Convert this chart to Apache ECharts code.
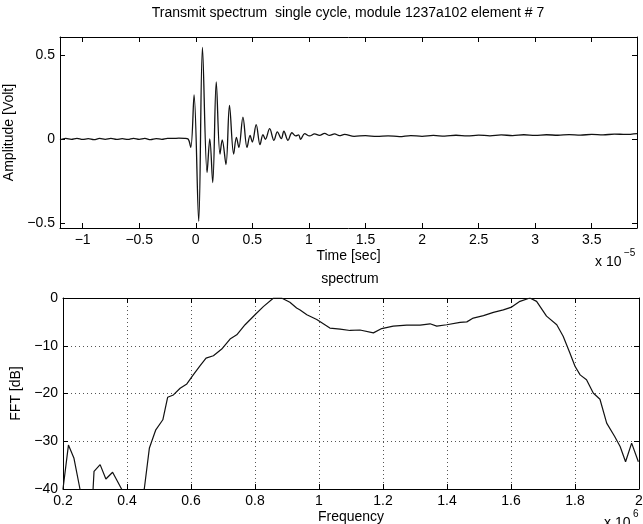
<!DOCTYPE html>
<html><head><meta charset="utf-8">
<script src="https://cdn.jsdelivr.net/npm/echarts@6/dist/echarts.min.js"></script>
<style>html,body{margin:0;padding:0;background:#fff}#c{width:643px;height:524px}</style>
</head><body><div id="c"></div>
<script>
// ---- Top plot: time signal (time in units of 1e-5 s, amplitude in Volt)
const timeValues = [
  -1.2, -1.15, -1.1, -1.05, -1.0, -0.95, -0.9, -0.85, -0.8, -0.75, -0.7, -0.65,
  -0.6, -0.55, -0.5, -0.45, -0.4, -0.35, -0.3, -0.25, -0.2, -0.15, -0.1,
  -0.068, -0.044, -0.015, 0.026, 0.059, 0.1, 0.124, 0.15, 0.181, 0.214, 0.234,
  0.267, 0.298, 0.335, 0.359, 0.381, 0.417, 0.453, 0.48, 0.5, 0.534, 0.568,
  0.594, 0.615, 0.653, 0.691, 0.721, 0.756, 0.779, 0.815, 0.85, 0.883, 0.909,
  0.927, 0.962, 1.006, 1.05, 1.094, 1.139, 1.183, 1.227, 1.27, 1.315, 1.4, 1.5,
  1.6, 1.7, 1.8, 1.9, 2.0, 2.1, 2.2, 2.3, 2.4, 2.5, 2.6, 2.7, 2.8, 2.9, 3.0,
  3.1, 3.2, 3.3, 3.4, 3.5, 3.6, 3.7, 3.8, 3.9
];
const amplitudeValues = [
  -0.006, 0.003, -0.002, 0.004, -0.003, 0.002, -0.004, 0.003, -0.002, 0.003, -0.003, 0.002,
  -0.003, 0.004, -0.002, 0.003, -0.004, 0.002, -0.002, 0.004, 0.003, 0.005, 0.004,
  0.0, -0.05, 0.262, -0.49, 0.545, -0.2, 0.0, -0.26, 0.34, -0.09, -0.006,
  -0.152, 0.2, -0.09, 0.01, -0.05, 0.13, -0.05, 0.021, -0.018, 0.085, -0.034,
  0.026, -0.002, 0.061, -0.008, 0.042, 0.002, 0.046, -0.008, 0.037, 0.018, 0.024,
  -0.002, 0.032, 0.018, 0.03, 0.021, 0.033, 0.021, 0.03, 0.02, 0.027, 0.016, 0.02,
  0.015, 0.019, 0.014, 0.02, 0.016, 0.021, 0.017, 0.022, 0.018, 0.023, 0.019, 0.024, 0.02, 0.025, 0.021,
  0.025, 0.022, 0.026, 0.023, 0.027, 0.024, 0.029, 0.027, 0.032
];
const timeTicks = [-1, -0.5, 0, 0.5, 1, 1.5, 2, 2.5, 3, 3.5];
const amplitudeTicks = [-0.5, 0, 0.5];

// ---- Bottom plot: spectrum (frequency in units of 1e6, FFT in dB)
const freqValues = [
  0.2, 0.217, 0.234, 0.253, 0.27, 0.294, 0.297, 0.316, 0.334, 0.355, 0.383, 0.42, 0.454,
  0.47, 0.49, 0.512, 0.527, 0.545, 0.566, 0.587, 0.607, 0.628, 0.647, 0.67, 0.696,
  0.722, 0.743, 0.769, 0.8, 0.826, 0.858, 0.883, 0.909, 0.93, 0.941, 0.962, 0.993,
  1.034, 1.066, 1.097, 1.128, 1.17, 1.196, 1.232, 1.274, 1.316, 1.347, 1.368, 1.399,
  1.441, 1.462, 1.482, 1.514, 1.545, 1.576, 1.602, 1.628, 1.659, 1.68, 1.711, 1.743,
  1.763, 1.784, 1.8, 1.816, 1.836, 1.857, 1.878, 1.899, 1.924, 1.941, 1.958, 1.977, 1.998
];
const fftValues = [
  -40, -30.8, -33.5, -40, -48, -40, -36.3, -34.9, -37.9, -36.5, -40, -48, -40,
  -31.4, -27.6, -25.5, -20.8, -20.3, -18.9, -18.0, -16.1, -14.2, -12.6, -12.1, -10.7,
  -8.6, -7.7, -5.6, -3.5, -1.8, 0, 0, -0.9, -2.1, -2.5, -3.5, -4.5,
  -6.3, -6.5, -6.8, -6.7, -7.3, -6.4, -5.9, -5.7, -5.7, -5.4, -5.9, -5.6,
  -5.1, -5.0, -4.2, -3.7, -3.0, -2.5, -1.9, -0.7, 0, -0.7, -3.8, -5.6,
  -8.0, -11.5, -14.3, -16.1, -17.1, -19.9, -21.2, -26.2, -29.0, -31.1, -34.3, -30.4, -34.3
];
const freqTicks = [0.2, 0.4, 0.6, 0.8, 1, 1.2, 1.4, 1.6, 1.8, 2];
const fftTicks = [-40, -30, -20, -10, 0];

const FONT = '"Liberation Sans", Arial, Helvetica, sans-serif';
const FS = 14;
const fmt = v => String(Math.round(v * 1000) / 1000).replace('-', '\u2212');
const line = { show: true, onZero: false, lineStyle: { color: '#000', width: 1 } };
const tick = (vals) => ({ show: true, inside: true, length: 5, lineStyle: { color: '#000', width: 1 }, customValues: vals });
const label = (vals, show) => ({ show: show, customValues: vals, formatter: fmt, color: '#000', fontSize: FS, fontFamily: FONT, margin: 5 });
const dotted = { show: true, lineStyle: { color: '#555', width: 1, type: [1, 3] } };
const nameStyle = { color: '#000', fontSize: FS, fontFamily: FONT };

const chart = echarts.init(document.getElementById('c'), null, { renderer: 'canvas' });
chart.setOption({
  animation: false,
  backgroundColor: '#fff',
  grid: [
    { left: 60, top: 37, width: 577, height: 191, containLabel: false, outerBoundsMode: 'none' },
    { left: 63, top: 298, width: 576, height: 191, containLabel: false, outerBoundsMode: 'none' }
  ],
  xAxis: [
    { gridIndex: 0, type: 'value', position: 'bottom', min: -1.2, max: 3.9,
      axisLine: line, axisTick: tick(timeTicks), axisLabel: label(timeTicks, true), splitLine: { show: false },
      name: 'Time [sec]', nameLocation: 'middle', nameGap: 21, nameTextStyle: nameStyle },
    { gridIndex: 0, type: 'value', position: 'top', min: -1.2, max: 3.9,
      axisLine: line, axisTick: tick(timeTicks), axisLabel: { show: false }, splitLine: { show: false } },
    { gridIndex: 1, type: 'value', position: 'bottom', min: 0.2, max: 2, interval: 0.2,
      axisLine: line, axisTick: tick(freqTicks), axisLabel: label(freqTicks, true), splitLine: dotted,
      name: 'Frequency', nameLocation: 'middle', nameGap: 21, nameTextStyle: nameStyle },
    { gridIndex: 1, type: 'value', position: 'top', min: 0.2, max: 2, interval: 0.2,
      axisLine: line, axisTick: tick(freqTicks), axisLabel: { show: false }, splitLine: { show: false } }
  ],
  yAxis: [
    { gridIndex: 0, type: 'value', position: 'left', min: -0.53, max: 0.607,
      axisLine: line, axisTick: tick(amplitudeTicks), axisLabel: label(amplitudeTicks, true), splitLine: { show: false },
      name: 'Amplitude [Volt]', nameLocation: 'middle', nameGap: 36, nameTextStyle: nameStyle },
    { gridIndex: 0, type: 'value', position: 'right', min: -0.53, max: 0.607,
      axisLine: line, axisTick: tick(amplitudeTicks), axisLabel: { show: false }, splitLine: { show: false } },
    { gridIndex: 1, type: 'value', position: 'left', min: -40, max: 0, interval: 10,
      axisLine: line, axisTick: tick(fftTicks), axisLabel: label(fftTicks, true), splitLine: dotted,
      name: 'FFT [dB]', nameLocation: 'middle', nameGap: 33, nameTextStyle: nameStyle },
    { gridIndex: 1, type: 'value', position: 'right', min: -40, max: 0, interval: 10,
      axisLine: line, axisTick: tick(fftTicks), axisLabel: { show: false }, splitLine: { show: false } }
  ],
  series: [
    { type: 'line', xAxisIndex: 0, yAxisIndex: 0, showSymbol: false, symbol: 'none', smooth: 0.35,
      lineStyle: { color: '#111', width: 1.3 }, clip: true,
      data: timeValues.map((t, i) => [t, amplitudeValues[i]]) },
    { type: 'line', xAxisIndex: 2, yAxisIndex: 2, showSymbol: false, symbol: 'none',
      lineStyle: { color: '#111', width: 1.2 }, clip: true,
      data: freqValues.map((f, i) => [f, fftValues[i]]) }
  ],
  graphic: [
    { type: 'text', x: 348, y: 13, style: { text: 'Transmit spectrum  single cycle, module 1237a102 element # 7', fill: '#000', font: FS + 'px ' + FONT, textAlign: 'center', textVerticalAlign: 'middle' } },
    { type: 'text', x: 350, y: 279, style: { text: 'spectrum', fill: '#000', font: FS + 'px ' + FONT, textAlign: 'center', textVerticalAlign: 'middle' } },
    { type: 'text', x: 595, y: 262, style: { text: 'x 10', fill: '#000', font: FS + 'px ' + FONT, textAlign: 'left', textVerticalAlign: 'middle' } },
    { type: 'text', x: 624, y: 253, style: { text: '\u22125', fill: '#000', font: '10px ' + FONT, textAlign: 'left', textVerticalAlign: 'middle' } },
    { type: 'text', x: 604, y: 523, style: { text: 'x 10', fill: '#000', font: FS + 'px ' + FONT, textAlign: 'left', textVerticalAlign: 'middle' } },
    { type: 'text', x: 633, y: 514, style: { text: '6', fill: '#000', font: '10px ' + FONT, textAlign: 'left', textVerticalAlign: 'middle' } }
  ]
});
</script>
</body></html>
